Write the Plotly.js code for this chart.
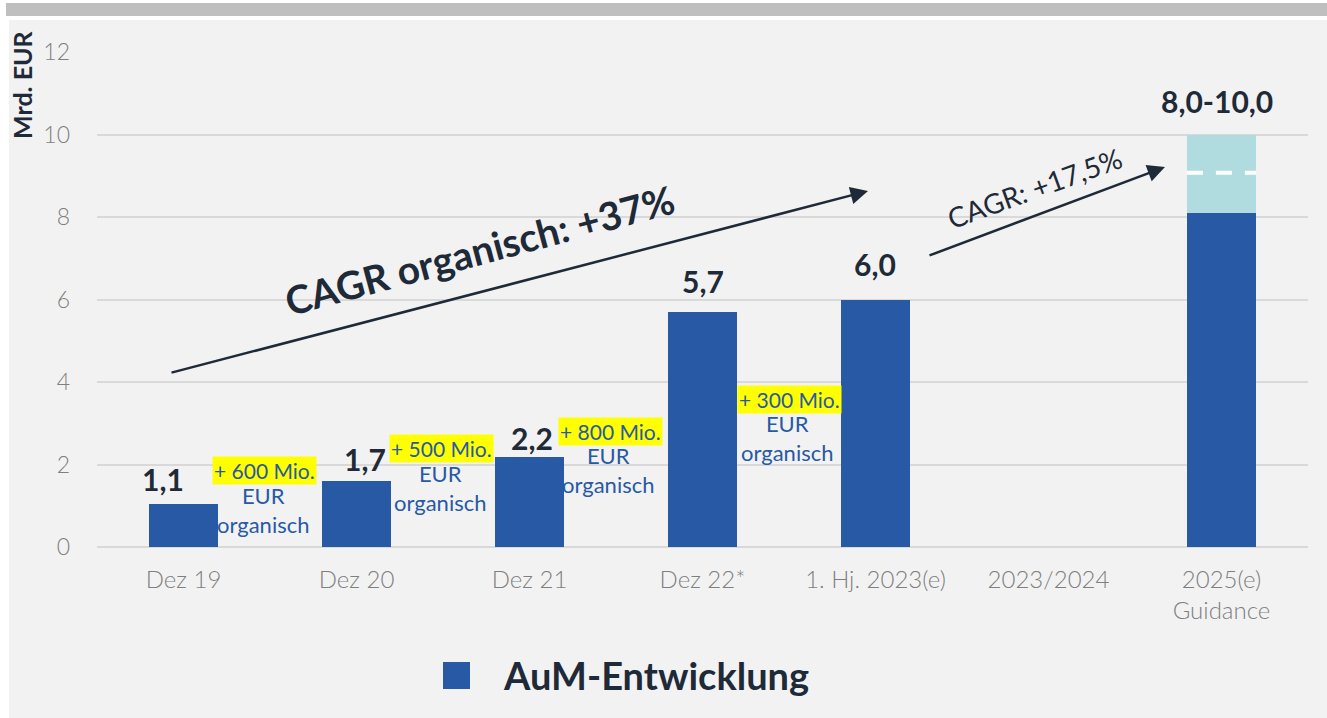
<!DOCTYPE html>
<html>
<head>
<meta charset="utf-8">
<script src="https://cdn.plot.ly/plotly-3.0.1.min.js"></script>
<style>html,body{margin:0;padding:0;background:#ffffff;}#chart{width:1327px;height:718px;}</style>
</head>
<body>
<div id="chart"></div>
<script>
// ---- data ----
const categories = ['Dez 19', 'Dez 20', 'Dez 21', 'Dez 22*', '1. Hj. 2023(e)', '2023/2024', '2025(e)'];
const tickLabels = ['Dez 19', 'Dez 20', 'Dez 21', 'Dez 22*', '1. Hj. 2023(e)', '2023/2024', '2025(e)<br>Guidance'];
const aumValues = [1.05, 1.6, 2.18, 5.7, 6.0, null, 8.1];
const guidanceRange = [null, null, null, null, null, null, 1.9];
const guidanceMid = 9.07;
const valueLabels = ['1,1', '1,7', '2,2', '5,7', '6,0', '', '8,0-10,0'];
const organicLabels = ['+ 600 Mio.', '+ 500 Mio.', '+ 800 Mio.', '+ 300 Mio.'];
const organicSub = 'EUR<br>organisch';
const cagrLabels = ['CAGR organisch: +37%', 'CAGR: +17,5%'];
const seriesName = 'AuM-Entwicklung';
const yTitle = 'Mrd. EUR';

// ---- styles ----
const BLUE = '#2859a5', TEAL = '#b0dcdf', DARK = '#1f2a38', GREY = '#7f7f7f';
const FONT = 'Lato, "Open Sans", sans-serif';
const M = {l: 97, r: 19, t: 52, b: 171};
const W = 1327, H = 718;
const plotW = W - M.l - M.r, plotH = H - M.t - M.b;
const yMax = 12;
// pixel -> data helpers for annotation placement
const X = px => (px - M.l) / plotW * categories.length - 0.5;
const Y = py => (M.t + plotH - py) / plotH * yMax;
const PX = px => (px - M.l) / plotW;
const PY = py => (M.t + plotH - py) / plotH;

const traces = [
  {type: 'bar', x: categories, y: aumValues, name: seriesName, width: 0.4,
   marker: {color: BLUE}, hoverinfo: 'x+y', showlegend: false},
  {type: 'bar', x: categories, y: guidanceRange, name: 'Guidance-Spanne', width: 0.4,
   marker: {color: TEAL}, hoverinfo: 'x+y', showlegend: false}
];

const labelDX = [-21, 8, 2, 0, -1, 0, -5];
const labelDY = [25, 22, 19, 31, 36, 0, 34];
const annotations = [];
valueLabels.forEach((t, i) => {
  if (!t) return;
  const top = (aumValues[i] || 0) + (guidanceRange[i] || 0);
  annotations.push({x: i, y: top, xref: 'x', yref: 'y', text: '<b>' + t + '</b>', showarrow: false,
    xanchor: 'center', yanchor: 'middle', xshift: labelDX[i], yshift: labelDY[i],
    font: {family: FONT, size: 30, color: DARK}});
});

const organicPos = [[264, 470, 263, 510], [441, 448, 440, 488], [610, 431, 608, 470], [789, 399, 787, 438]];
organicLabels.forEach((t, i) => {
  const p = organicPos[i];
  annotations.push({x: X(p[0]), y: Y(p[1]), xref: 'x', yref: 'y', text: t, showarrow: false,
    bgcolor: '#ffff00', borderpad: 1, xanchor: 'center', yanchor: 'middle',
    font: {family: FONT, size: 21, color: BLUE}});
  annotations.push({x: X(p[2]), y: Y(p[3]), xref: 'x', yref: 'y', text: organicSub, showarrow: false,
    xanchor: 'center', yanchor: 'middle',
    font: {family: FONT, size: 22, color: BLUE}});
});

// arrows
annotations.push({x: X(868), y: Y(191), xref: 'x', yref: 'y', text: '', showarrow: true,
  ax: 170 - 868, ay: 373 - 191, arrowhead: 2, arrowsize: 1.4, arrowwidth: 2.5, arrowcolor: DARK, standoff: 0});
annotations.push({x: X(1165), y: Y(167), xref: 'x', yref: 'y', text: '', showarrow: true,
  ax: 928 - 1165, ay: 256 - 167, arrowhead: 2, arrowsize: 1.4, arrowwidth: 2.5, arrowcolor: DARK, standoff: 0});
annotations.push({x: X(479), y: Y(250), xref: 'x', yref: 'y', text: '<b>' + cagrLabels[0] + '</b>', showarrow: false,
  textangle: -15, font: {family: FONT, size: 39, color: DARK}});
annotations.push({x: X(1034), y: Y(188), xref: 'x', yref: 'y', text: cagrLabels[1], showarrow: false,
  textangle: -20, font: {family: FONT, size: 28, color: DARK}});

// y title
annotations.push({x: PX(22), y: PY(85), xref: 'paper', yref: 'paper', text: '<b>' + yTitle + '</b>', showarrow: false,
  textangle: -90, xanchor: 'center', yanchor: 'middle', font: {family: FONT, size: 25, color: DARK}});
// legend text
annotations.push({x: PX(501), y: PY(675), xref: 'paper', yref: 'paper', text: '<b>' + seriesName + '</b>', showarrow: false,
  xanchor: 'left', yanchor: 'middle', font: {family: FONT, size: 38, color: DARK}});

const shapes = [
  {type: 'rect', xref: 'paper', yref: 'paper', x0: PX(9), x1: PX(1330), y0: PY(720), y1: PY(20),
   fillcolor: '#f2f2f2', line: {width: 0}, layer: 'below'},
  {type: 'rect', xref: 'paper', yref: 'paper', x0: PX(6), x1: PX(1330), y0: PY(16), y1: PY(3),
   fillcolor: '#bfbfbf', line: {width: 0}, layer: 'below'},
  {type: 'line', xref: 'x', yref: 'y', x0: 6 - 0.2, x1: 6 + 0.2, y0: guidanceMid, y1: guidanceMid,
   line: {color: '#ffffff', width: 4, dash: '16px,13px'}, layer: 'above'},
  {type: 'rect', xref: 'paper', yref: 'paper', x0: PX(443), x1: PX(470), y0: PY(689), y1: PY(662),
   fillcolor: BLUE, line: {width: 0}}
];

const layout = {
  width: W, height: H, margin: M,
  paper_bgcolor: '#ffffff', plot_bgcolor: 'rgba(0,0,0,0)',
  barmode: 'stack', showlegend: false,
  font: {family: FONT, color: GREY},
  xaxis: {type: 'category', categoryorder: 'array', categoryarray: categories, range: [-0.5, 6.5],
    tickvals: categories, ticktext: tickLabels, showgrid: false, zeroline: false, showline: false,
    ticks: '', ticklabelstandoff: 16, tickfont: {family: FONT, size: 24, color: GREY, weight: 300}},
  yaxis: {range: [0, yMax], dtick: 2, tick0: 0, showgrid: true, gridcolor: '#d9d9d9', gridwidth: 2,
    zeroline: true, zerolinecolor: '#d9d9d9', zerolinewidth: 2, showline: false, ticks: '',
    ticklabelstandoff: 26, tickfont: {family: FONT, size: 23, color: GREY, weight: 300}},
  annotations: annotations, shapes: shapes
};

Plotly.newPlot('chart', traces, layout, {displayModeBar: false, staticPlot: true});
</script>
</body>
</html>
